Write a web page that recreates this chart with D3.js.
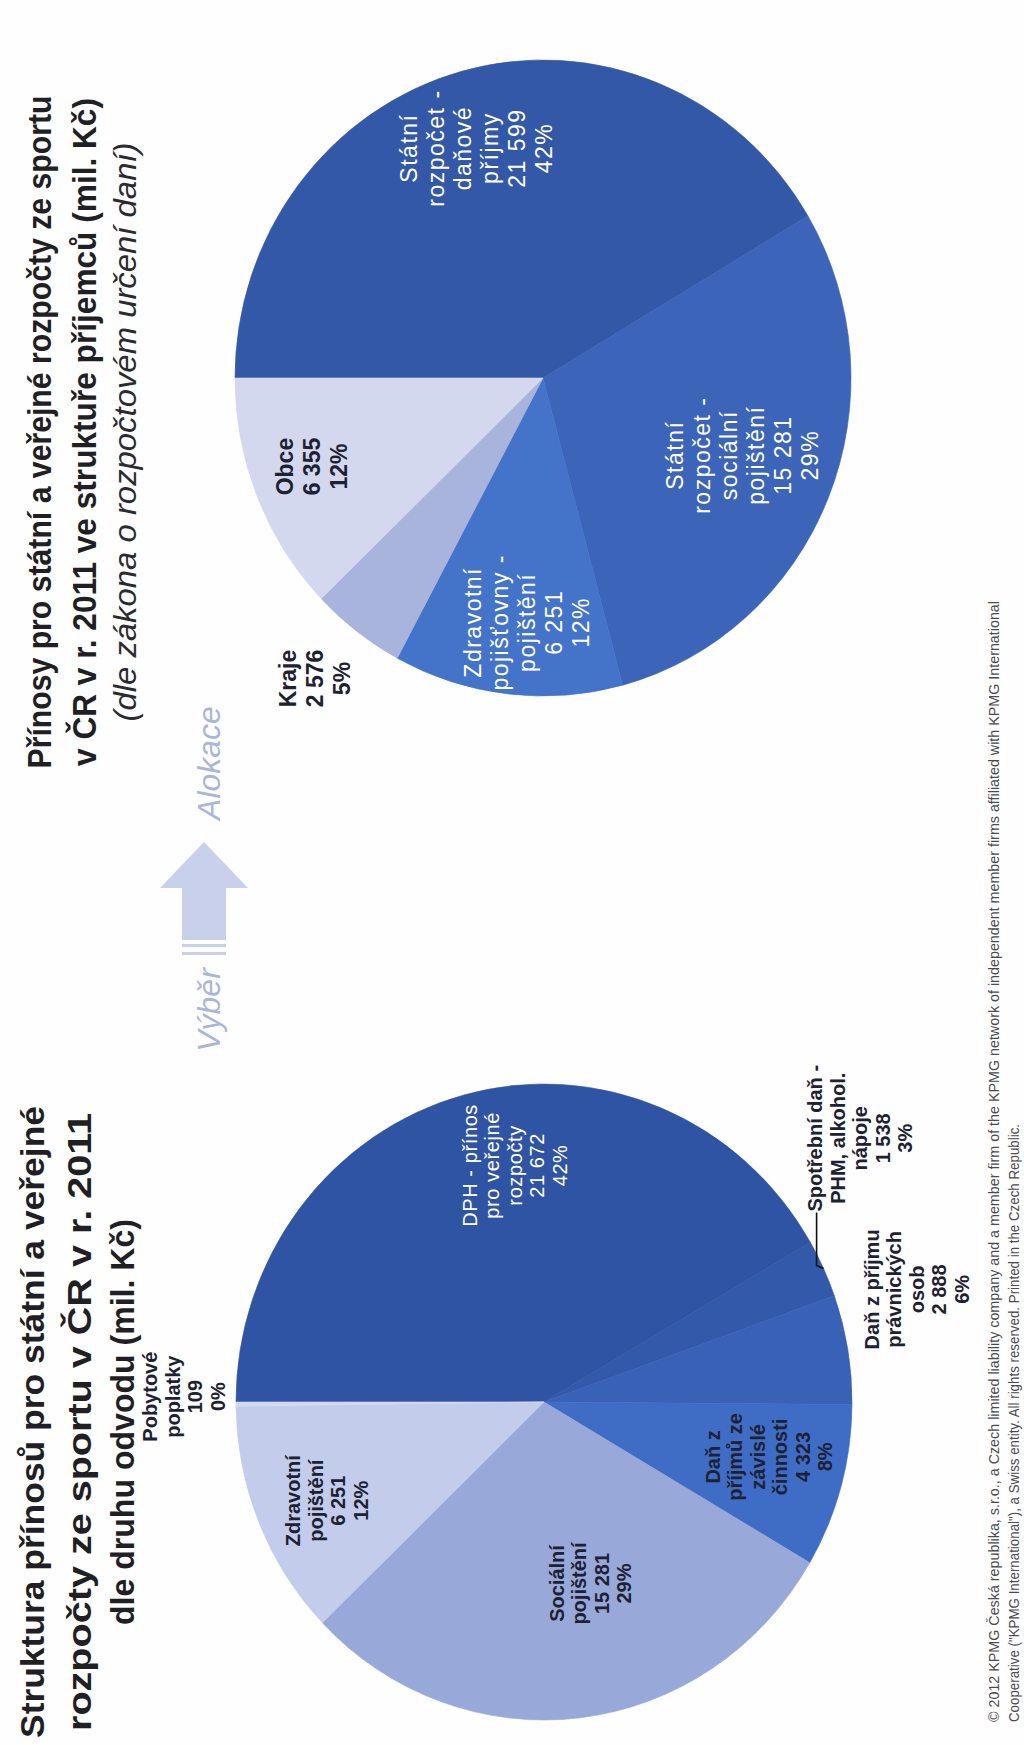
<!DOCTYPE html>
<html><head><meta charset="utf-8">
<script src="https://cdn.jsdelivr.net/npm/d3@7"></script>
<style>
html,body{margin:0;padding:0;background:#fefefe;}
svg{display:block;}
</style></head><body>
<svg id="chart" width="1024" height="1745"></svg>
<script>
// ---------------- DATA ----------------
const leftTitle = ["Struktura přínosů pro státní a veřejné", "rozpočty ze sportu v ČR v r. 2011", "dle druhu odvodu  (mil. Kč)"];
const rightTitle = ["Přínosy pro státní a veřejné rozpočty ze sportu", "v ČR v r. 2011 ve struktuře příjemců (mil. Kč)"];
const rightSubtitle = "(dle zákona o rozpočtovém určení daní)";

const leftCategories = ["DPH - přínos pro veřejné rozpočty", "Spotřební daň - PHM, alkohol. nápoje", "Daň z příjmu právnických osob", "Daň z příjmů ze závislé činnosti", "Sociální pojištění", "Zdravotní pojištění", "Pobytové poplatky"];
const leftLabelLines = [["DPH - přínos", "pro veřejné", "rozpočty"], ["Spotřební daň -", "PHM, alkohol.", "nápoje"], ["Daň z příjmu", "právnických", "osob"], ["Daň z", "příjmů ze", "závislé", "činnosti"], ["Sociální", "pojištění"], ["Zdravotní", "pojištění"], ["Pobytové", "poplatky"]];
const leftValues = [21672, 1538, 2888, 4323, 15281, 6251, 109];
const leftPercents = ["42%", "3%", "6%", "8%", "29%", "12%", "0%"];

const rightCategories = ["Státní rozpočet - daňové příjmy", "Státní rozpočet - sociální pojištění", "Zdravotní pojišťovny - pojištění", "Kraje", "Obce"];
const rightLabelLines = [["Státní", "rozpočet -", "daňové", "příjmy"], ["Státní", "rozpočet -", "sociální", "pojištění"], ["Zdravotní", "pojišťovny -", "pojištění"], ["Kraje"], ["Obce"]];
const rightValues = [21599, 15281, 6251, 2576, 6355];
const rightPercents = ["42%", "29%", "12%", "5%", "12%"];

const flowLabels = ["Výběr", "Alokace"];
const footer = ["© 2012 KPMG Česká republika, s.r.o., a Czech limited liability company and a member firm of the KPMG network of independent member firms affiliated with KPMG International", "Cooperative (\"KPMG International\"), a Swiss entity. All rights reserved. Printed in the Czech Republic."];

// ---------------- STYLE / LAYOUT ----------------
const leftColors = ["#2f54a4", "#3359aa", "#3962b6", "#3f6dc6", "#97a8d9", "#c4cceb", "#d3d9f0"];
const rightColors = ["#3458a8", "#3c64b9", "#4473ca", "#a9b4dd", "#d3d8ef"];
const leftInk = ["w", "d", "d", "d", "d", "d", "d"];
const rightInk = ["w", "w", "w", "d", "d"];
// label placement: angle offset from slice middle (deg), distance as fraction of radius
const leftLabelPlace = [[7.8, 0.75], [-14.1, 1.32], [-6.8, 1.26], [-2.1, 0.75], [-7.9, 0.59], [-1.4, 0.77], [1.2, 1.17]];
const rightLabelPlace = [[-1.4, 0.755], [-1.6, 0.69], [-2.8, 0.77], [0.9, 1.2], [1.6, 0.8]];

const PAGE_H = 1745;
const R = 308, SX = 318 / 308;
const sans = "'Liberation Sans', Arial, 'Helvetica Neue', sans-serif";
const DARK = "#1c2133";

const svg = d3.select("#chart");
svg.append("rect").attr("width", 1024).attr("height", 1745).attr("fill", "#fefefe");
// landscape frame (1745 x 1024) rotated to portrait
const root = svg.append("g").attr("transform", `translate(0,${PAGE_H}) rotate(-90)`);

const fmt = v => d3.format(",")(v).replace(/,/g, " ");

function multiLine(g, x, y, lines, o) {
  const n = lines.length;
  const t = g.append("text")
    .attr("text-anchor", "middle")
    .attr("font-family", sans)
    .attr("font-size", o.size)
    .attr("font-weight", o.weight)
    .attr("letter-spacing", o.ls || 0)
    .attr("fill", o.fill);
  lines.forEach((s, i) => {
    t.append("tspan").attr("x", x)
      .attr("y", y - (n - 1) * o.lh / 2 + i * o.lh + o.size * 0.36)
      .text(s);
  });
  return t;
}

function drawPie(cfg) {
  const data = cfg.values.map((v, i) => ({ name: cfg.categories[i], value: v, i }));
  const arcs = d3.pie().sort(null).value(d => d.value).startAngle(0).endAngle(2 * Math.PI)(data);
  const arc = d3.arc().innerRadius(0).outerRadius(R);
  const g = root.append("g").attr("transform", `translate(${cfg.cx},${cfg.cy}) scale(${SX},1)`);
  g.selectAll("path").data(arcs).join("path")
    .attr("d", arc)
    .attr("fill", d => cfg.colors[d.index])
    .attr("stroke", d => cfg.colors[d.index])
    .attr("stroke-width", 0.6);

  const lg = root.append("g");
  arcs.forEach((a, i) => {
    const [dAng, frac] = cfg.place[i];
    const ang = (a.startAngle + a.endAngle) / 2 + dAng * Math.PI / 180;
    const x = cfg.cx + Math.sin(ang) * frac * R * SX;
    const y = cfg.cy - Math.cos(ang) * frac * R;
    const lines = cfg.labelLines[i].concat([fmt(a.data.value), cfg.percents[i]]);
    const white = cfg.ink[i] === "w";
    const st = white ? cfg.whiteStyle : cfg.darkStyle;
    const t = multiLine(lg, x, y, lines, st);
    if (cfg.leader === i) {
      // leader line: from the middle of the slice's arc to the start of the first label line
      const mid = (a.startAngle + a.endAngle) / 2;
      const ex = cfg.cx + Math.sin(mid) * R * SX;
      const ey = cfg.cy - Math.cos(mid) * R;
      const bb = t.select("tspan").node().getBBox();
      const ly = bb.y + bb.height * 0.55;
      lg.append("path")
        .attr("d", d3.line()([[ex, ey], [ex + 3, ly], [bb.x - 1, ly]]))
        .attr("fill", "none").attr("stroke", "#111").attr("stroke-width", 1.6);
    }
  });
}

// -------- left pie --------
drawPie({
  cx: PAGE_H - 1402, cy: 544,
  categories: leftCategories, values: leftValues, percents: leftPercents,
  labelLines: leftLabelLines, colors: leftColors, ink: leftInk, place: leftLabelPlace,
  darkStyle: { size: 20, weight: "bold", lh: 22.5, fill: DARK },
  whiteStyle: { size: 20, weight: "normal", lh: 22.5, fill: "#ffffff", ls: 0.6 },
  leader: 1
});
// -------- right pie --------
drawPie({
  cx: PAGE_H - 378, cy: 543,
  categories: rightCategories, values: rightValues, percents: rightPercents,
  labelLines: rightLabelLines, colors: rightColors, ink: rightInk, place: rightLabelPlace,
  darkStyle: { size: 23, weight: "bold", lh: 27, fill: DARK },
  whiteStyle: { size: 23, weight: "normal", lh: 27, fill: "#ffffff", ls: 1.5 }
});

// -------- titles --------
function titleLine(x, y, s, len, size, opts = {}) {
  root.append("text").attr("x", x).attr("y", y)
    .attr("text-anchor", "middle")
    .attr("font-family", sans).attr("font-size", size)
    .attr("font-weight", opts.weight || "bold")
    .attr("font-style", opts.style || "normal")
    .attr("fill", opts.fill || "#1f1f24")
    .attr("textLength", len).attr("lengthAdjust", "spacingAndGlyphs")
    .text(s);
}
const ltLens = [632, 618, 406], ltY = [44, 91, 134];
leftTitle.forEach((s, i) => titleLine(PAGE_H - 1422, ltY[i], s, ltLens[i], 34));
const rtLens = [673, 668], rtY = [51, 96];
rightTitle.forEach((s, i) => titleLine(PAGE_H - 432, rtY[i], s, rtLens[i], 33));
titleLine(PAGE_H - 432, 136, rightSubtitle, 579, 31, { weight: "normal", style: "italic", fill: "#2a2a30" });

// -------- flow arrow --------
const ac = "#c8d0ec";
const ax = d3.scaleLinear().domain([0, 1]).range([PAGE_H - 940, PAGE_H - 842]); // along arrow
root.append("path")
  .attr("d", d3.line()([[ax(0), 182], [ax(0.53), 182], [ax(0.53), 160], [ax(1), 204], [ax(0.53), 248], [ax(0.53), 226], [ax(0), 226]]) + "Z")
  .attr("fill", ac);
root.append("rect").attr("x", PAGE_H - 947).attr("y", 182).attr("width", 3).attr("height", 44).attr("fill", ac);
root.append("rect").attr("x", PAGE_H - 955).attr("y", 182).attr("width", 3).attr("height", 44).attr("fill", ac);
root.append("text").attr("x", PAGE_H - 1010).attr("y", 220).attr("text-anchor", "middle")
  .attr("font-family", sans).attr("font-size", 32).attr("font-style", "italic").attr("fill", "#a9b5dc")
  .text(flowLabels[0]);
root.append("text").attr("x", PAGE_H - 763).attr("y", 220).attr("text-anchor", "middle")
  .attr("font-family", sans).attr("font-size", 32).attr("font-style", "italic").attr("fill", "#a9b5dc")
  .text(flowLabels[1]);

// -------- footer --------
const ftLens = [1121, 598], ftY = [999, 1019];
footer.forEach((s, i) => {
  root.append("text").attr("x", PAGE_H - 1722).attr("y", ftY[i])
    .attr("font-family", sans).attr("font-size", 14).attr("fill", "#4a4a4f")
    .attr("textLength", ftLens[i]).attr("lengthAdjust", "spacingAndGlyphs")
    .text(s);
});
</script>
</body></html>
